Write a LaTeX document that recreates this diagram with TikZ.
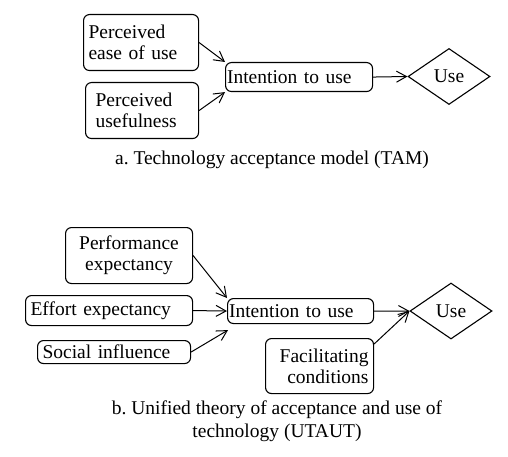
\documentclass[tikz,border=0pt]{standalone}
\usepackage{fontspec}
\setmainfont{Liberation Serif}
\usetikzlibrary{arrows.meta,positioning,calc,shapes.geometric}
\frenchspacing

\begin{document}
\begin{tikzpicture}[
        x=1pt, y=-1pt,
        every node/.style={color=black, font=\fontsize{19.5}{21}\selectfont},
        factor/.style={draw, line width=1.1pt, rounded corners=6pt,
            anchor=north west, inner ysep=2pt},
        usage/.style={draw, diamond, line width=1.1pt, inner sep=0pt,
            minimum width=82pt, minimum height=56pt},
        link/.style={line width=1pt,
            -{Straight Barb[length=10pt,width=11pt,line width=1pt]}},
        caption/.style={align=center, font=\fontsize{19.5}{22.7}\selectfont},
    ]
    \useasboundingbox (0,0) rectangle (508,457);
    % TAM
    \node[factor, minimum width=115pt, minimum height=56pt, inner xsep=5pt,
          text width=105pt, align=left] (ease) at (83,14) {Perceived\\ease of use};
    \node[factor, minimum width=113pt, minimum height=56pt, inner xsep=10pt,
          text width=93pt, align=left] (useful) at (85,82) {Perceived\\usefulness};
    \node[factor, minimum width=147pt, minimum height=29pt, inner xsep=1.5pt,
          text width=144pt, align=left] (intA) at (225,62) {Intention to use};
    \node[usage] (useA) at (449,76.5) {Use};
    \node[caption] (capA) at (272,160) {a. Technology acceptance model (TAM)};

    \draw[link] (ease.east) -- (intA.north west);
    \draw[link] (useful.east) -- (intA.south west);
    \draw[link] (intA.east) -- (useA.west);

    % UTAUT
    \node[factor, minimum width=127pt, minimum height=56pt, inner xsep=4pt,
          text width=119pt, align=center] (perf) at (65,227) {Performance\\expectancy};
    \node[factor, minimum width=167pt, minimum height=30pt, inner xsep=5pt,
          text width=157pt, align=left] (effort) at (25,295) {Effort expectancy};
    \node[factor, minimum width=153pt, minimum height=23pt, inner xsep=5pt,
          text width=143pt, align=left] (social) at (37,340) {Social influence};
    \node[factor, minimum width=146pt, minimum height=25pt, inner xsep=1.5pt,
          text width=143pt, align=left] (intB) at (227,298) {Intention to use};
    \node[usage] (useB) at (451,311) {Use};
    \node[factor, minimum width=108pt, minimum height=55pt, inner xsep=5pt,
          text width=98pt, align=right] (facil) at (265,338) {Facilitating\\conditions};
    \node[caption] (capB) at (277,421) {b. Unified theory of acceptance and use of\\technology (UTAUT)};

    \coordinate (socEnd) at ($(intB.south west)+(1,6)$);
    \draw[link] (perf.east) -- (intB.north west);
    \draw[link] (effort.east) -- (intB.west);
    \draw[link] (social.east) -- (socEnd);
    \draw[link] (intB.east) -- (useB.west);
    \draw[link] (facil.22) -- (useB.west);
\end{tikzpicture}
\end{document}
